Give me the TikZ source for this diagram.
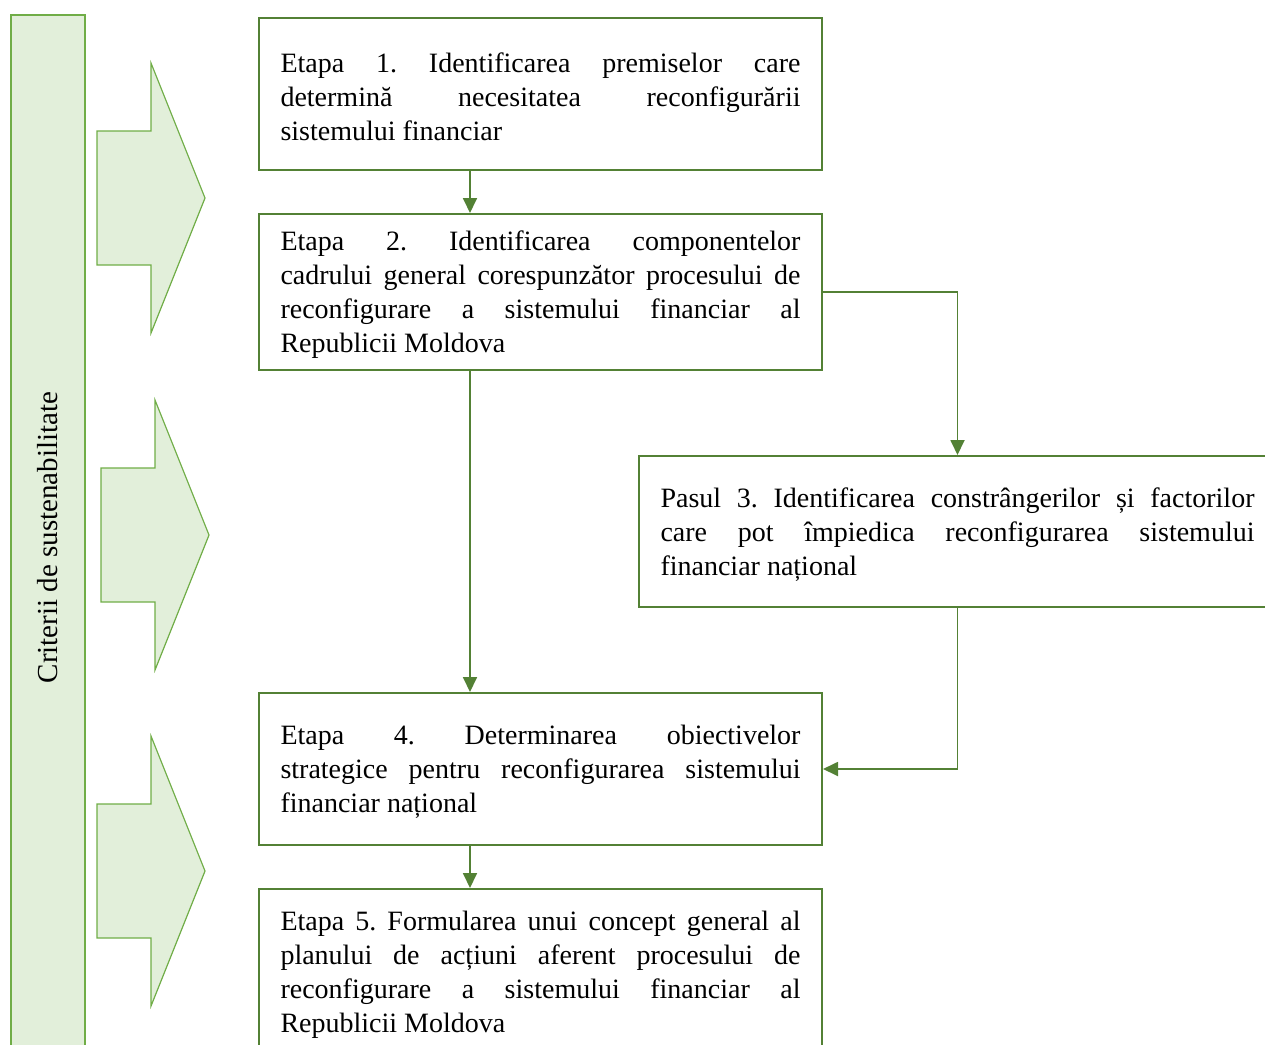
\documentclass[tikz,border=0pt]{standalone}
\usepackage{fontspec}
\setmainfont{Liberation Serif}
\usetikzlibrary{arrows.meta}

\definecolor{verdeinchis}{HTML}{538135}
\definecolor{verdemediu}{HTML}{70AD47}
\definecolor{verdedeschis}{HTML}{E2EFDA}

\hyphenpenalty=10000
\exhyphenpenalty=10000
\frenchspacing

\begin{document}
\begin{tikzpicture}[x=0.5pt, y=-0.5pt, >={Triangle[width=7pt,length=7.5pt]},
    etapa/.style={%
        draw = verdeinchis,
        line width = 1pt,
        anchor = north west,
        align = justify,
        text width = 260pt,
        inner xsep = 10.75pt,
        inner ysep = 0pt,
        execute at begin node = {\rule{0pt}{12.8pt}},
        font = \fontsize{14pt}{17pt}\selectfont
    },
    legatura/.style={->, draw = verdeinchis, line width = 0.9pt},
    bloc/.style={draw = verdemediu, fill = verdedeschis, line width = 0.6pt}
]

        % Size of the page.
        \useasboundingbox (0, 0) rectangle (1265, 1045);
        \clip (0, 0) rectangle (1265, 1045);

        % Column on the left with the criteria.
        \node[%
            bloc,
            rotate = 90,
            minimum width = 522.5pt,
            minimum height = 37pt,
            inner sep = 0pt,
            font = \fontsize{14.5pt}{17pt}\selectfont
        ] (criterii) at (48, 537.5) {Criterii de sustenabilitate};

        % Block arrows pointing from the column to the steps.
        \foreach \x/\y in {97/198, 101/535, 97/871}
            \draw[bloc] (\x, \y-67) -- (\x+54, \y-67) -- (\x+54, \y-135)
                -- (\x+108, \y) -- (\x+54, \y+135) -- (\x+54, \y+67)
                -- (\x, \y+67) -- cycle;

        % The steps.
        \node[etapa, minimum height = 76pt] (e1) at (258, 17)
            {Etapa 1. Identificarea premiselor care\linebreak
             determină necesitatea reconfigurării\linebreak
             sistemului financiar};

        \node[etapa, minimum height = 78pt] (e2) at (258, 213)
            {Etapa 2. Identificarea componentelor\linebreak
             cadrului general corespunzător procesului de\linebreak
             reconfigurare a sistemului financiar al\linebreak
             Republicii Moldova};

        \node[etapa, minimum height = 75.5pt, text width = 297pt] (e3) at (638, 455)
            {Pasul 3. Identificarea constrângerilor și factorilor\linebreak
             care pot împiedica reconfigurarea sistemului\linebreak
             financiar național};

        \node[etapa, minimum height = 76pt] (e4) at (258, 692)
            {Etapa 4. Determinarea obiectivelor\linebreak
             strategice pentru reconfigurarea sistemului\linebreak
             financiar național};

        \node[etapa, minimum height = 83pt] (e5) at (258, 888)
            {Etapa 5. Formularea unui concept general al\linebreak
             planului de acțiuni aferent procesului de\linebreak
             reconfigurare a sistemului financiar al\linebreak
             Republicii Moldova};

        % Vertical axis of the main column of arrows.
        \coordinate (axa) at (470, 0);

        % Connectors between the steps.
        \draw[legatura] (e1.south -| axa) -- (e2.north -| axa);
        \draw[legatura] (e2.south -| axa) -- (e4.north -| axa);
        \draw[legatura] (e4.south -| axa) -- (e5.north -| axa);
        \draw[legatura] (e2.east) -| (e3.north);
        \draw[legatura] (e3.south) |- (e4.east);
    \end{tikzpicture}
\end{document}
